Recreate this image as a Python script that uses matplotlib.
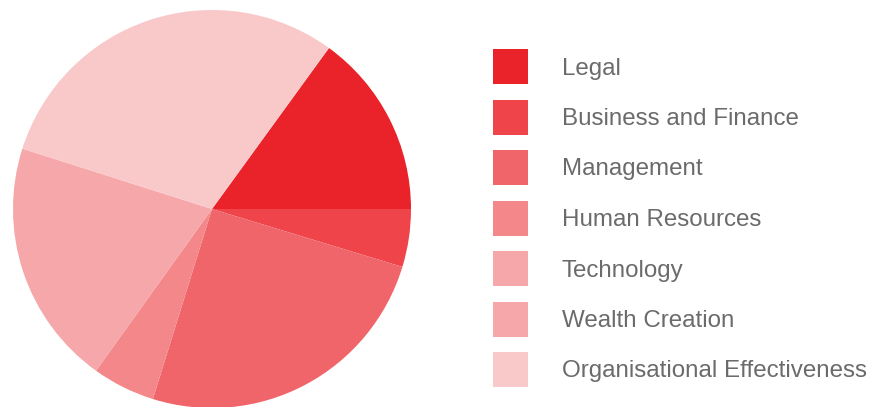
import matplotlib
matplotlib.use('Agg')
import matplotlib.pyplot as plt
from matplotlib.patches import Rectangle

# shares (percent)
categories = ['Legal', 'Business and Finance', 'Management', 'Human Resources',
              'Technology', 'Wealth Creation', 'Organisational Effectiveness']
shares = [15.0, 4.7, 25.1, 5.1, 20.0, 0.0, 30.1]
colors = ['#ea2229', '#ef444a', '#f06569', '#f3878a', '#f5a7aa', '#f5a7aa', '#f9c9ca']

plt.rcParams['font.family'] = ['Liberation Sans', 'DejaVu Sans']

W, H = 878, 407
fig = plt.figure(figsize=(W / 100, H / 100), dpi=100)
ax = fig.add_axes([13 / W, -1 / H, 398 / W, 398 / H])

start = 360 * shares[0] / sum(shares)
wedges, _ = ax.pie(shares, colors=colors, startangle=start, counterclock=False,
                   radius=1.0, wedgeprops={'linewidth': 0})
ax.set_xlim(-1, 1)
ax.set_ylim(-1, 1)
ax.set_aspect('equal')
ax.axis('off')

# legend drawn by hand: squares and labels
for i, (label, color) in enumerate(zip(categories, colors)):
    top = 49 + i * 50.5
    fig.patches.append(Rectangle((493 / W, 1 - (top + 35) / H), 35 / W, 35 / H,
                                 transform=fig.transFigure, facecolor=color,
                                 edgecolor='none'))
    fig.text(562 / W, 1 - (top + 19.5) / H, label, fontsize=17.4, color='#6b6b6b',
             va='center', ha='left')

fig.savefig('out.png', dpi=100)
